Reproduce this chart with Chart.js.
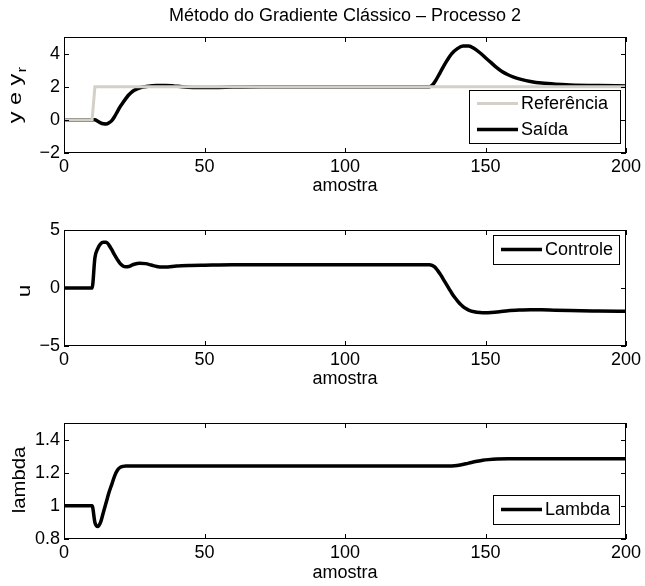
<!DOCTYPE html>
<html><head><meta charset="utf-8">
<script src="https://cdn.jsdelivr.net/npm/chart.js@4/dist/chart.umd.min.js"></script>
<style>
html,body{margin:0;padding:0;background:#fff;width:645px;height:586px;overflow:hidden;position:relative}
canvas{position:absolute;left:0}
</style></head><body>
<canvas id="c1" width="645" height="201" style="top:0px"></canvas>
<canvas id="c2" width="645" height="201" style="top:193px"></canvas>
<canvas id="c3" width="645" height="200" style="top:386px"></canvas>
<script>
// ---------- data ----------
const titleText = 'Método do Gradiente Clássico – Processo 2';
const xLabel = 'amostra';
const xTicks = [0, 50, 100, 150, 200];

const yTicksTop = [-2, 0, 2, 4];
const yTicksMid = [-5, 0, 5];
const yTicksBot = [0.8, 1, 1.2, 1.4];

const refX = [0, 10, 11, 200];
const refY = [0, 0, 2, 2];

const outX = [0, 11, 12, 13, 14, 15, 16, 17, 18, 19, 20, 21, 22, 23, 24, 25, 26, 27, 28, 30, 33, 36, 39, 42, 46, 50, 55, 60, 70, 130, 131, 132, 134, 136, 138, 140, 142, 144, 146, 148, 150, 152, 154, 156, 158, 160, 163, 166, 170, 175, 180, 190, 200];
const outY = [0, 0, -0.08, -0.18, -0.24, -0.25, -0.18, -0.05, 0.2, 0.5, 0.8, 1.05, 1.28, 1.5, 1.66, 1.78, 1.87, 1.93, 1.98, 2.03, 2.07, 2.08, 2.05, 2.0, 1.96, 1.95, 1.96, 1.98, 2.0, 2.0, 2.08, 2.3, 2.9, 3.5, 4.0, 4.3, 4.45, 4.45, 4.3, 4.05, 3.75, 3.45, 3.15, 2.9, 2.72, 2.58, 2.43, 2.32, 2.22, 2.15, 2.11, 2.07, 2.05];

const uX = [0, 10, 11, 12, 13, 14, 15, 16, 17, 18, 19, 20, 21, 22, 23, 24, 25, 27, 29, 31, 33, 35, 37, 40, 45, 50, 60, 130, 131, 132, 133, 134, 135, 136, 137, 138, 139, 140, 141, 142, 143, 144, 146, 148, 150, 152, 155, 158, 162, 166, 170, 175, 180, 190, 200];
const uY = [0, 0, 2.6, 3.4, 3.8, 3.95, 3.95, 3.7, 3.3, 2.85, 2.45, 2.1, 1.9, 1.83, 1.85, 1.95, 2.05, 2.13, 2.1, 1.98, 1.85, 1.8, 1.82, 1.9, 1.95, 1.97, 2.0, 2.0, 1.95, 1.8, 1.5, 1.15, 0.75, 0.35, -0.05, -0.45, -0.8, -1.1, -1.38, -1.6, -1.77, -1.9, -2.05, -2.12, -2.14, -2.12, -2.05, -1.96, -1.9, -1.87, -1.88, -1.92, -1.95, -1.98, -2.0];

const lamX = [0, 10, 11, 12, 13, 14, 15, 16, 17, 18, 19, 20, 21, 22, 137, 139, 141, 143, 145, 147, 149, 151, 154, 158, 200];
const lamY = [1, 1, 0.9, 0.875, 0.9, 0.96, 1.02, 1.08, 1.13, 1.18, 1.215, 1.232, 1.238, 1.24, 1.24, 1.242, 1.247, 1.254, 1.262, 1.269, 1.275, 1.279, 1.283, 1.285, 1.285];

// ---------- helpers ----------
const FONT = "'Liberation Sans', Arial, Helvetica, sans-serif";
const pts = (xs, ys) => xs.map((x, i) => ({x, y: ys[i]}));
const fmt = v => { const r = Math.round(v * 10) / 10; return r < 0 ? '\u2212' + Math.abs(r) : String(r); };

const framePlugin = {
  id: 'frame',
  afterDatasetsDraw(chart) {
    const {ctx, chartArea: a, scales: {x, y}} = chart;
    const L = 5;
    ctx.save();
    ctx.strokeStyle = '#000';
    ctx.lineWidth = 1;
    ctx.strokeRect(a.left + 0.5, a.top + 0.5, a.right - a.left - 1, a.bottom - a.top - 1);
    ctx.beginPath();
    x.ticks.forEach(t => {
      const p = Math.round(x.getPixelForValue(t.value)) + 0.5;
      ctx.moveTo(p, a.bottom); ctx.lineTo(p, a.bottom - L);
      ctx.moveTo(p, a.top); ctx.lineTo(p, a.top + L);
    });
    y.ticks.forEach(t => {
      const p = Math.round(y.getPixelForValue(t.value)) + 0.5;
      ctx.moveTo(a.left, p); ctx.lineTo(a.left + L, p);
      ctx.moveTo(a.right, p); ctx.lineTo(a.right - L, p);
    });
    ctx.stroke();
    ctx.restore();
  },
  afterDraw(chart) {
    const o = chart.options.plugins.boxLegend;
    const ctx = chart.ctx;
    if (o) {
      const n = chart.data.datasets.length;
      ctx.save();
      ctx.fillStyle = '#fff';
      ctx.fillRect(o.x, o.y, o.w, o.h);
      ctx.strokeStyle = '#000';
      ctx.lineWidth = 1;
      ctx.strokeRect(o.x + 0.5, o.y + 0.5, o.w, o.h);
      ctx.font = '18px ' + FONT;
      ctx.textBaseline = 'middle';
      ctx.textAlign = 'left';
      chart.data.datasets.forEach((ds, i) => {
        const cy = o.y + o.h / 2 - (n - 1) * 13 + 26 * i;
        ctx.strokeStyle = ds.borderColor;
        ctx.lineWidth = ds.borderWidth;
        ctx.beginPath();
        ctx.moveTo(o.x + 8, cy); ctx.lineTo(o.x + 49, cy);
        ctx.stroke();
        ctx.fillStyle = '#000';
        ctx.fillText(ds.label, o.x + 52, cy + 1);
      });
      ctx.restore();
    }
    const yl = chart.options.plugins.yLabel;
    if (yl) {
      ctx.save();
      ctx.translate(yl.x, yl.cy);
      ctx.rotate(-Math.PI / 2);
      ctx.scale(yl.stretch, 1);
      ctx.fillStyle = '#000';
      ctx.textBaseline = 'alphabetic';
      ctx.textAlign = 'left';
      ctx.font = '18px ' + FONT;
      const w1 = ctx.measureText(yl.main).width;
      let w2 = 0;
      if (yl.sub) { ctx.font = '13px ' + FONT; w2 = ctx.measureText(yl.sub).width + 1; }
      const start = -(w1 + w2) / 2;
      ctx.font = '18px ' + FONT;
      ctx.fillText(yl.main, start, 0);
      if (yl.sub) { ctx.font = '13px ' + FONT; ctx.fillText(yl.sub, start + w1 + 1, 5); }
      ctx.restore();
    }
  }
};

function makeChart(id, datasets, yMin, yMax, yTicks, extra) {
  const canvasH = document.getElementById(id).height;
  const xH = canvasH - 153;
  const opts = {
    responsive: false,
    animation: false,
    devicePixelRatio: 1,
    layout: {padding: {top: extra.title ? 0 : 37, right: 19, left: 0, bottom: 0}},
    elements: {point: {radius: 0}, line: {cubicInterpolationMode: 'monotone'}},
    plugins: {
      legend: {display: false},
      tooltip: {enabled: false},
      title: extra.title ? {
        display: true, text: extra.title, color: '#000', fullSize: false,
        font: {family: FONT, size: 18, weight: 'normal', lineHeight: 1.2},
        padding: {top: 5.5, bottom: 9.9}
      } : {display: false},
      boxLegend: extra.legend,
      yLabel: extra.yLabel
    },
    scales: {
      x: {
        type: 'linear', min: 0, max: 200,
        grid: {display: false, drawTicks: false},
        border: {display: false},
        afterBuildTicks: s => { s.ticks = xTicks.map(v => ({value: v})); },
        afterFit: s => { s.height = xH; },
        ticks: {autoSkip: false, maxRotation: 0, padding: 3, color: '#000',
          font: {family: FONT, size: 18, lineHeight: 1.2}, callback: v => fmt(v)},
        title: {display: true, text: xLabel, color: '#000',
          font: {family: FONT, size: 18, lineHeight: 1.2},
          padding: {top: 0, bottom: extra.xTitlePad}}
      },
      y: {
        type: 'linear', min: yMin, max: yMax,
        grid: {display: false, drawTicks: false},
        border: {display: false},
        afterBuildTicks: s => { s.ticks = yTicks.map(v => ({value: v})); },
        afterFit: s => { s.width = 64; },
        ticks: {autoSkip: false, padding: 4, color: '#000',
          font: {family: FONT, size: 18, lineHeight: 1.2}, callback: v => fmt(v)},
        title: {display: false}
      }
    }
  };
  return new Chart(document.getElementById(id), {
    type: 'line',
    data: {datasets},
    options: opts,
    plugins: [framePlugin]
  });
}

makeChart('c1', [
  {label: 'Referência', data: pts(refX, refY), borderColor: '#d4d0c8', borderWidth: 3, fill: false, cubicInterpolationMode: 'default', tension: 0},
  {label: 'Saída', data: pts(outX, outY), borderColor: '#000', borderWidth: 3.5, fill: false}
], -2, 5, yTicksTop, {
  title: titleText,
  legend: {x: 469, y: 90, w: 151, h: 53},
  yLabel: {main: 'y e y', sub: 'r', x: 21, cy: 95, stretch: 1.3},
  xTitlePad: 4.2
});

makeChart('c2', [
  {label: 'Controle', data: pts(uX, uY), borderColor: '#000', borderWidth: 3.5, fill: false}
], -5, 5, yTicksMid, {
  legend: {x: 493, y: 42, w: 126, h: 29},
  yLabel: {main: 'u', x: 30, cy: 98, stretch: 1.25},
  xTitlePad: 4.2
});

makeChart('c3', [
  {label: 'Lambda', data: pts(lamX, lamY), borderColor: '#000', borderWidth: 3.5, fill: false}
], 0.8, 1.5, yTicksBot, {
  legend: {x: 493, y: 109, w: 126, h: 29},
  yLabel: {main: 'lambda', x: 25, cy: 94, stretch: 1.13},
  xTitlePad: 2.2
});
</script>
</body></html>
